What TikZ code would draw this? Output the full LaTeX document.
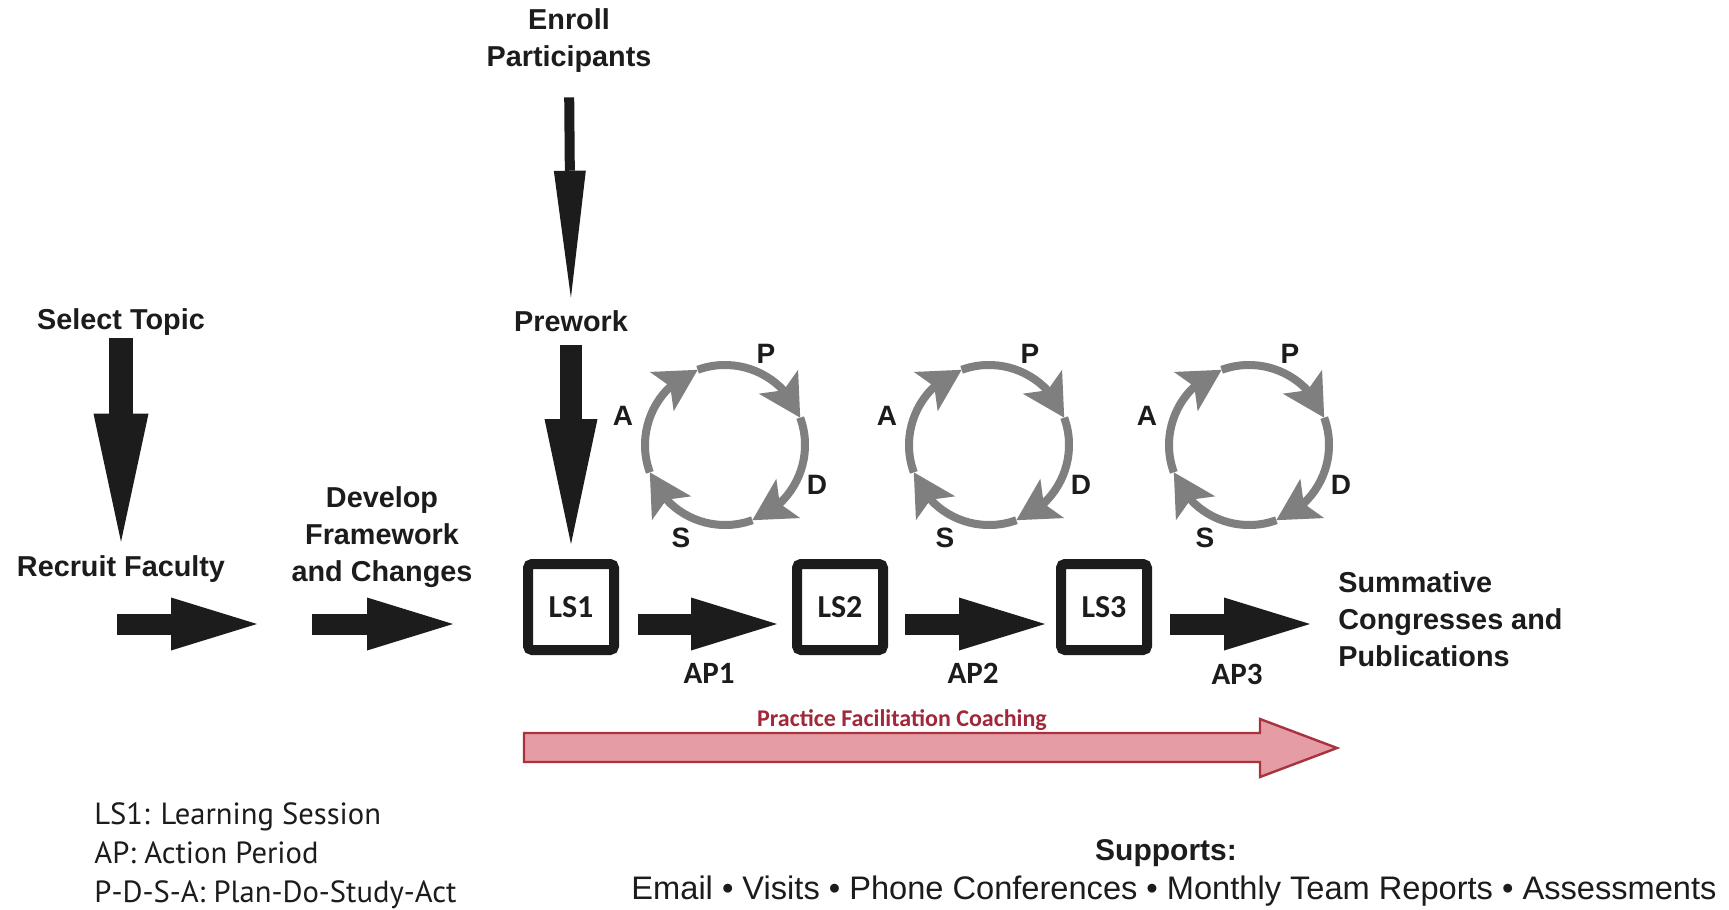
\documentclass[tikz,border=0pt]{standalone}
\usepackage{fontspec}
\setmainfont{Liberation Sans}
\newfontfamily\calib{Carlito}
\newfontfamily\legf{PT Sans}
\usetikzlibrary{arrows.meta,bending}
\definecolor{ringgray}{HTML}{7F7F7F}
\definecolor{coachfill}{HTML}{E59CA4}
\definecolor{coachline}{HTML}{A8323E}
\definecolor{coachtext}{HTML}{A0283A}
\definecolor{ink}{HTML}{1C1C1C}
\begin{document}
\begin{tikzpicture}[x=0.5pt,y=-0.5pt,
  lbl/.style={font=\fontsize{14.4}{18.5}\selectfont\bfseries, align=center, inner sep=0pt, text=ink},
  pdsa/.style={font=\fontsize{14}{16}\selectfont\bfseries, inner sep=0pt, text=ink},
  lsbox/.style={draw=ink, line width=5pt, minimum size=43pt, inner sep=0pt, rounded corners=2pt,
    font=\calib\bfseries\fontsize{16}{18}\selectfont, text=ink},
  aplbl/.style={font=\calib\bfseries\fontsize{15.5}{18}\selectfont, inner sep=0pt, text=ink},
  blk/.style={draw=ink, line width=10.5pt, -{Triangle[length=43pt, width=26.5pt, line width=0pt]}},
  downarrow/.style n args={3}{draw=ink, line width=#1, -{Triangle[length=#3, width=#2, line width=0pt]}},
  ring/.style={draw=ringgray, line width=4pt, -{Stealth[length=21pt, width=23pt, inset=5pt, line width=0pt]}},
  coach/.style={fill=coachfill, draw=coachline, line width=1.2pt, line join=miter},
  coachlbl/.style={font=\calib\bfseries\fontsize{12}{14}\selectfont, text=coachtext, inner sep=0pt},
  legend/.style={font=\legf\fontsize{15.3}{19.5}\selectfont, align=left, inner sep=0pt, text=ink},
  supphead/.style={font=\fontsize{15}{18}\selectfont\bfseries, inner sep=0pt, text=ink},
  supplist/.style={font=\fontsize{16.3}{19}\selectfont, inner sep=0pt, text=ink}
]
\fill[white] (0,0) rectangle (1729,910);
\useasboundingbox (0,0) rectangle (1729,910);

% text labels
\node[lbl] (enroll) at (569,41) {Enroll\\Participants};
\node[lbl, anchor=base] (prework) at (571,331) {Prework};
\node[lbl, anchor=base] (select) at (121,329) {Select Topic};
\node[lbl, anchor=base] (recruit) at (121,576) {Recruit Faculty};
\node[lbl] (develop) at (382,537) {Develop\\Framework\\and Changes};
\node[lbl, align=left, anchor=west] (summ) at (1338,619) {Summative\\Congresses and\\Publications};

% learning sessions
\node[lsbox] (ls1) at (571,607) {LS1};
\node[lsbox] (ls2) at (840,607) {LS2};
\node[lsbox] (ls3) at (1104,607) {LS3};

\node[aplbl] (ap1) at (709,673) {AP1};
\node[aplbl] (ap2) at (973,673) {AP2};
\node[aplbl] (ap3) at (1237,674) {AP3};

% down arrows
\draw[downarrow={5pt}{16pt}{63.5pt}, shorten <=12pt, shorten >=6pt] (enroll.south) -- (prework.north);
\draw[downarrow={11pt}{26.5pt}{62.5pt}, shorten <=6.5pt, shorten >=7.5pt] (prework.south) -- (ls1.north);
\draw[downarrow={12pt}{27.5pt}{64pt}, shorten <=1.5pt, shorten >=6.5pt] (select.south) -- (recruit.north);

% horizontal arrows
\coordinate (a1s) at (117,624);
\coordinate (a1e) at (257,624);
\coordinate (a2s) at (312,624);
\coordinate (a2e) at (453,624);
\coordinate (ap3e) at (1310,624);
\draw[blk] (a1s) -- (a1e);
\draw[blk] (a2s) -- (a2e);
\draw[blk, shorten <=9.5pt, shorten >=7.5pt] ([yshift=-8.5pt]ls1.east) -- ([yshift=-8.5pt]ls2.west);
\draw[blk, shorten <=8.5pt, shorten >=5.5pt] ([yshift=-8.5pt]ls2.east) -- ([yshift=-8.5pt]ls3.west);
\draw[blk, shorten <=9pt] ([yshift=-8.5pt]ls3.east) -- (ap3e);

% PDSA cycles
\foreach \cx/\n in {725/1, 989/2, 1249/3} {
  \coordinate (cyc\n) at (\cx,445);
  \foreach \t in {-200,-110,-20,70}
    \draw[ring] (cyc\n) ++(\t:80) arc[start angle=\t, end angle=\t+90, radius=80];
  \node[pdsa] (P\n) at ([xshift=20.5pt, yshift=45.5pt]cyc\n) {P};
  \node[pdsa] (A\n) at ([xshift=-51pt, yshift=14.5pt]cyc\n) {A};
  \node[pdsa] (D\n) at ([xshift=46pt, yshift=-20pt]cyc\n) {D};
  \node[pdsa] (S\n) at ([xshift=-22pt, yshift=-46.5pt]cyc\n) {S};
}

% practice facilitation coaching
\draw[coach] (524,733) -- (1260,733) -- (1260,719) -- (1337,748) -- (1260,777) -- (1260,762) -- (524,762) -- cycle;
\node[coachlbl, anchor=base] (coachtxt) at (902,726) {Practice Facilitation Coaching};

% legend
\node[legend, anchor=west] (legend) at (94,856) {LS1: Learning Session\\AP: Action Period\\P-D-S-A: Plan-Do-Study-Act};

% supports
\node[supphead, anchor=base] (supp) at (1166,860) {Supports:};
\node[supplist, anchor=base] (supplist) at (1174,899) {Email • Visits • Phone Conferences • Monthly Team Reports • Assessments};
\end{tikzpicture}
\end{document}
